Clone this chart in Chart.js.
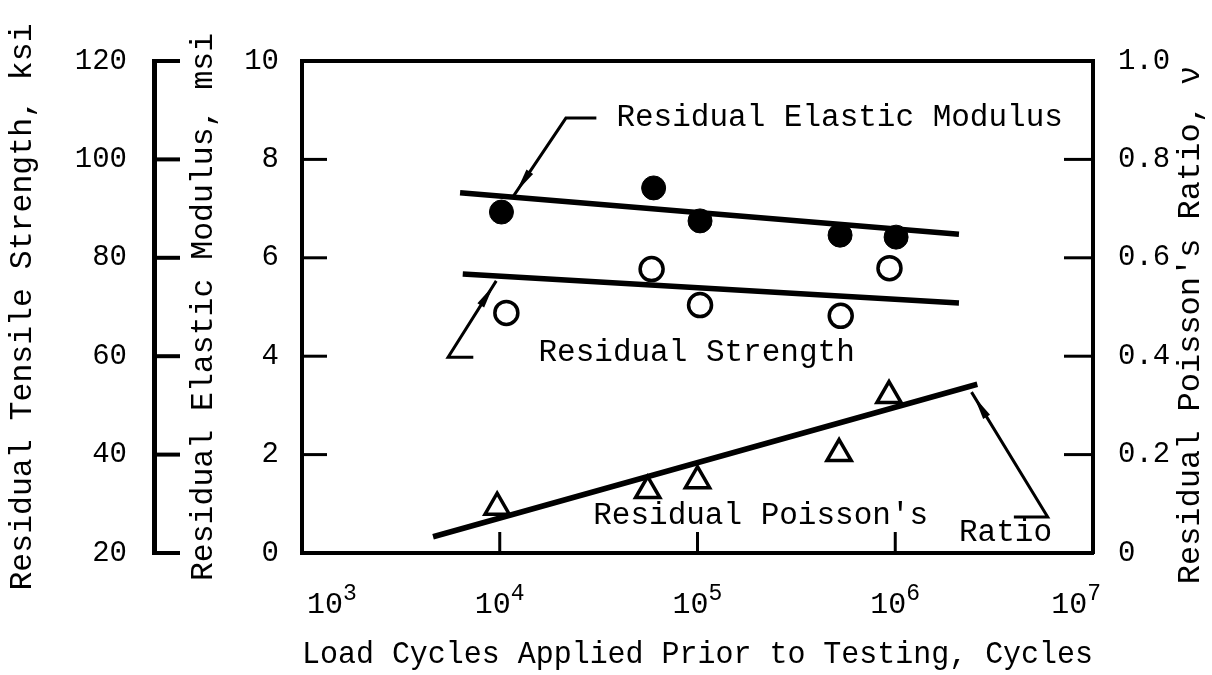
<!DOCTYPE html>
<html>
<head>
<meta charset="utf-8">
<script src="https://cdn.jsdelivr.net/npm/chart.js@4.4.1/dist/chart.umd.min.js"></script>
<style>
  html, body { margin: 0; padding: 0; background: #fff; }
</style>
</head>
<body>
<canvas id="myChart" width="1212" height="675"></canvas>
<script>
var modCycles = [1.02e4, 6.0e4, 1.03e5, 5.26e5, 1.01e6]
var modulusMsi = [6.93, 7.42, 6.75, 6.46, 6.42]
var strCycles = [1.08e4, 5.86e4, 1.03e5, 5.3e5, 9.35e5]
var strengthKsi = [68.8, 77.7, 70.4, 68.2, 77.9]
var nuCycles = [9.7e3, 5.6e4, 1.0e5, 5.2e5, 9.3e5]
var poissonRatio = [0.093, 0.127, 0.147, 0.202, 0.320]

// trend lines (two ends each)
var modFitCycles = [6.3e3, 2.1e6]
var modFitMsi = [7.32, 6.48]
var strFitCycles = [6.5e3, 2.1e6]
var strFitKsi = [76.7, 70.8]
var nuFitCycles = [4.6e3, 2.6e6]
var nuFit = [0.033, 0.343]

// axis ticks
var xTicks = [1e3, 1e4, 1e5, 1e6, 1e7]
var xTickExp = ['3', '4', '5', '6', '7']
var msiTicks = [0, 2, 4, 6, 8, 10]
var ksiTicks = [20, 40, 60, 80, 100, 120]
var nuTicks = [0, 0.2, 0.4, 0.6, 0.8, 1.0]
var nuTickLabels = ['0', '0.2', '0.4', '0.6', '0.8', '1.0']

// callout text + leader lines, in (cycles, msi) units
var callouts = [
    { text: 'Residual Elastic Modulus', at: [3.89e4, 8.84], path: [[3.08e4, 8.84], [2.16e4, 8.84], [1.175e4, 7.26]] },
    { text: 'Residual Strength', at: [1.57e4, 4.07], path: [[7.35e3, 3.98], [5.48e3, 3.98], [9.6e3, 5.53]] },
    { text: "Residual Poisson's", at: [2.97e4, 0.75], path: null },
    { text: 'Ratio', at: [2.1e6, 0.41], path: [[3.98e6, 0.73], [5.9e6, 0.73], [2.43e6, 3.27]] }
]

const MONO = '"Liberation Mono"'
const NUM = '"Liberation Mono"'

function pts(xs, ys) {
    return xs.map((v, i) => ({ x: v, y: ys[i] }))
}

const decor = {
    id: 'decor',
    afterDatasetsDraw(chart) {
        const { ctx, chartArea: a, scales } = chart
        const x = scales.x, y = scales.y, yK = scales.yK, yP = scales.yP
        const line = (x1, y1, x2, y2) => {
            ctx.beginPath(); ctx.moveTo(x1, y1); ctx.lineTo(x2, y2); ctx.stroke()
        }
        ctx.save()
        ctx.strokeStyle = '#000'
        ctx.fillStyle = '#000'

        // top edge of the frame
        ctx.lineWidth = 4
        line(a.left - 2, a.top, a.right + 2, a.top)

        // inward ticks
        ctx.lineWidth = 3
        xTicks.slice(1, -1).forEach(v => {
            const px = x.getPixelForValue(v)
            line(px, a.bottom, px, a.bottom - 21)
        })
        msiTicks.slice(1, -1).forEach(v => {
            const py = y.getPixelForValue(v)
            line(a.left, py, a.left + 25, py)
        })
        nuTicks.slice(1, -1).forEach(v => {
            const py = yP.getPixelForValue(v)
            line(a.right, py, a.right - 29, py)
        })
        ctx.lineWidth = 4
        ksiTicks.forEach(v => {
            const py = yK.getPixelForValue(v)
            line(yK.right - 2, py, yK.right + 26, py)
        })

        // x labels as 10 with raised exponent
        xTicks.forEach((v, i) => {
            ctx.font = '30px ' + NUM
            const wb = ctx.measureText('10').width
            ctx.font = '23px ' + NUM
            const we = ctx.measureText(xTickExp[i]).width
            let left = x.getPixelForValue(v) - (wb + we) / 2
            left = Math.max(left, a.left + 5)
            left = Math.min(left, a.right + 8 - wb - we)
            ctx.textAlign = 'left'
            ctx.textBaseline = 'alphabetic'
            ctx.font = '30px ' + NUM
            ctx.fillText('10', left, 613)
            ctx.font = '23px ' + NUM
            ctx.fillText(xTickExp[i], left + wb, 600)
        })

        // right-hand title reads bottom to top
        ctx.save()
        ctx.translate(1191, 325)
        ctx.rotate(-Math.PI / 2)
        ctx.font = '32px ' + MONO
        ctx.textAlign = 'center'
        ctx.textBaseline = 'middle'
        ctx.fillText("Residual Poisson's Ratio, \u03bd", 0, 0)
        ctx.restore()

        // callouts
        callouts.forEach(c => {
            ctx.font = '31px ' + MONO
            ctx.textAlign = 'left'
            ctx.textBaseline = 'middle'
            ctx.fillText(c.text, x.getPixelForValue(c.at[0]), y.getPixelForValue(c.at[1]))
            if (!c.path) return
            const p = c.path.map(q => [x.getPixelForValue(q[0]), y.getPixelForValue(q[1])])
            ctx.lineWidth = 3
            ctx.lineJoin = 'miter'
            ctx.beginPath()
            p.forEach((q, i) => i ? ctx.lineTo(q[0], q[1]) : ctx.moveTo(q[0], q[1]))
            ctx.stroke()
            // slim arrow head near the trend line
            const e = p[p.length - 1], s = p[p.length - 2]
            const dx = e[0] - s[0], dy = e[1] - s[1]
            const len = Math.hypot(dx, dy)
            const ux = dx / len, uy = dy / len
            const tx = e[0] - ux * 5, ty = e[1] - uy * 5
            const bx = tx - ux * 24, by = ty - uy * 24
            ctx.beginPath()
            ctx.moveTo(tx, ty)
            ctx.lineTo(bx - uy * 4, by + ux * 4)
            ctx.lineTo(bx + uy * 4, by - ux * 4)
            ctx.closePath()
            ctx.fill()
        })
        ctx.restore()
    }
}

const ctx = document.getElementById('myChart')

var myChart = new Chart(ctx, {
    type: 'scatter',
    data: {
        datasets: [{
            label: 'Residual Elastic Modulus',
            data: pts(modCycles, modulusMsi),
            yAxisID: 'y',
            pointStyle: 'circle',
            pointRadius: 12,
            backgroundColor: '#000',
            borderColor: '#000',
            borderWidth: 1
        }, {
            label: 'Residual Strength',
            data: pts(strCycles, strengthKsi),
            yAxisID: 'yK',
            pointStyle: 'circle',
            pointRadius: 11.5,
            backgroundColor: '#fff',
            borderColor: '#000',
            borderWidth: 3.5
        }, {
            label: "Residual Poisson's Ratio",
            data: pts(nuCycles, poissonRatio),
            yAxisID: 'yP',
            pointStyle: 'triangle',
            pointRadius: 14,
            backgroundColor: '#fff',
            borderColor: '#000',
            borderWidth: 3.5
        }, {
            data: pts(modFitCycles, modFitMsi),
            yAxisID: 'y',
            showLine: true,
            pointRadius: 0,
            borderColor: '#000',
            borderWidth: 5.5
        }, {
            data: pts(strFitCycles, strFitKsi),
            yAxisID: 'yK',
            showLine: true,
            pointRadius: 0,
            borderColor: '#000',
            borderWidth: 5.5
        }, {
            data: pts(nuFitCycles, nuFit),
            yAxisID: 'yP',
            showLine: true,
            pointRadius: 0,
            borderColor: '#000',
            borderWidth: 5.5
        }]
    },
    options: {
        responsive: false,
        animation: false,
        devicePixelRatio: 1,
        layout: { padding: { left: 4, top: 61, right: 0, bottom: 0 } },
        plugins: {
            legend: { display: false },
            tooltip: { enabled: false }
        },
        scales: {
            x: {
                type: 'logarithmic',
                position: 'bottom',
                min: 1e3,
                max: 1e7,
                afterBuildTicks: s => { s.ticks = xTicks.map(v => ({ value: v })) },
                afterFit: s => { s.height = 122 },
                ticks: { display: false },
                grid: { display: false },
                border: { display: true, color: '#000', width: 4 },
                title: {
                    display: true,
                    text: 'Load Cycles Applied Prior to Testing, Cycles',
                    color: '#000',
                    font: { family: MONO, size: 30.5 },
                    padding: { top: 0, bottom: 2 }
                }
            },
            yK: {
                type: 'linear',
                position: 'left',
                weight: 10,
                min: 20,
                max: 120,
                afterBuildTicks: s => { s.ticks = ksiTicks.map(v => ({ value: v })) },
                afterFit: s => { s.width = 150 },
                ticks: { color: '#000', padding: 19, font: { family: NUM, size: 29 } },
                grid: { display: false },
                border: { display: true, color: '#000', width: 5 },
                title: {
                    display: true,
                    text: 'Residual Tensile Strength, ksi',
                    color: '#000',
                    font: { family: MONO, size: 31.5 },
                    padding: { top: 0, bottom: 0 }
                }
            },
            y: {
                type: 'linear',
                position: 'left',
                weight: 0,
                min: 0,
                max: 10,
                afterBuildTicks: s => { s.ticks = msiTicks.map(v => ({ value: v })) },
                afterFit: s => { s.width = 148 },
                ticks: { color: '#000', padding: 15, font: { family: NUM, size: 29 } },
                grid: { display: false },
                border: { display: true, color: '#000', width: 4 },
                title: {
                    display: true,
                    text: 'Residual Elastic Modulus, msi',
                    color: '#000',
                    font: { family: MONO, size: 31.5 },
                    padding: { top: 31, bottom: 0 }
                }
            },
            yP: {
                type: 'linear',
                position: 'right',
                min: 0,
                max: 1,
                afterBuildTicks: s => { s.ticks = nuTicks.map(v => ({ value: v })) },
                afterFit: s => { s.width = 119 },
                ticks: {
                    color: '#000',
                    padding: 17,
                    font: { family: NUM, size: 29 },
                    callback: (v, i) => nuTickLabels[i]
                },
                grid: { display: false },
                border: { display: true, color: '#000', width: 4 },
                title: { display: false }
            }
        }
    },
    plugins: [decor]
});
</script>
</body>
</html>
